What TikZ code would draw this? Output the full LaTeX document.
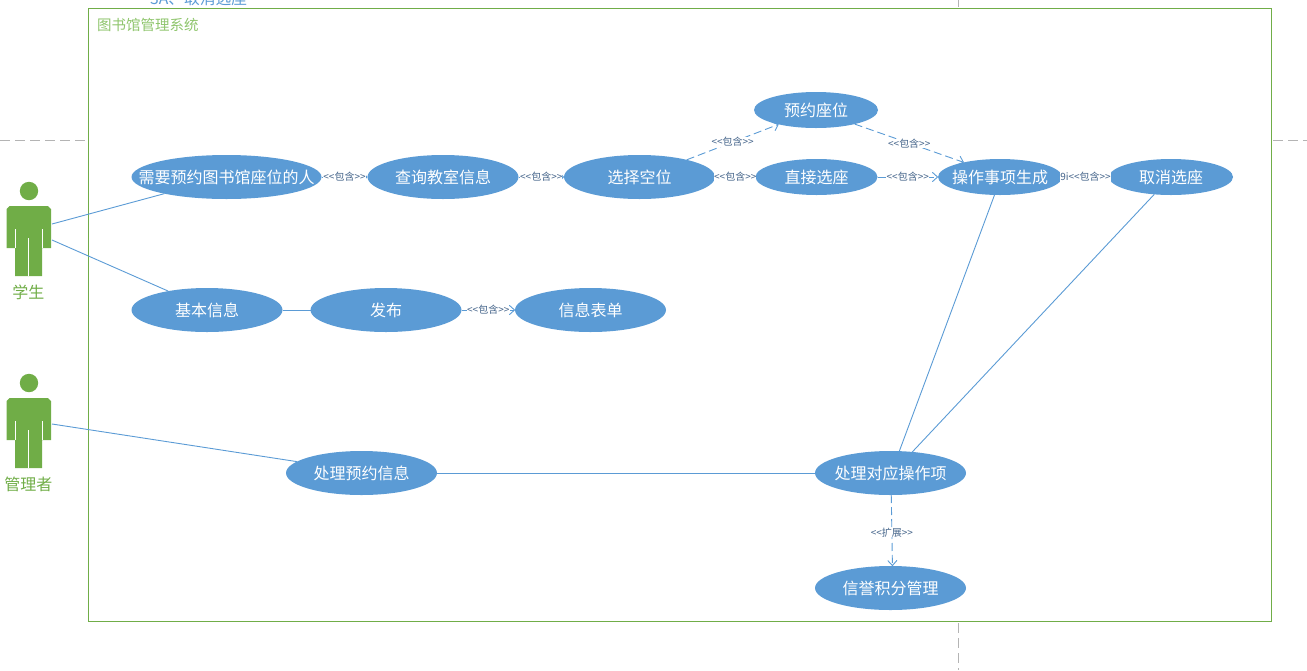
\documentclass[tikz,border=0pt]{standalone}
\usepackage{fontspec}
\setmainfont{Noto Sans CJK SC}
\usetikzlibrary{shapes.geometric,arrows.meta}
\definecolor{ucblue}{HTML}{5B9BD5}
\definecolor{actgreen}{HTML}{70AD47}
\definecolor{titlegreen}{HTML}{8FC56D}
\definecolor{labblue}{HTML}{44648A}
\definecolor{guide}{HTML}{B4B4B4}
\newcommand\uctext[1]{\makebox[0pt][c]{\raisebox{-0.4em}[0pt][0pt]{#1}}}
\newcommand\inctext[1]{<{}<#1>{}>}
\tikzset{
  x=1pt,y=-1pt,
  uc/.style={ellipse,fill=ucblue,inner sep=0pt,outer sep=0pt,text=white,font=\fontsize{16}{16}\selectfont},
  ucbig/.style={uc,minimum height=44pt},
  ucsmall/.style={uc,minimum height=36pt},
  solidlink/.style={draw=ucblue,line width=0.9pt},
  inc/.style={draw=ucblue,line width=0.9pt,dash pattern=on 8pt off 4pt,-{Straight Barb[length=5pt,width=9pt,round]}},
  lab/.style={fill=white,inner sep=0pt,text=labblue,font=\fontsize{10}{10}\selectfont},
  actorname/.style={text=actgreen,inner sep=0pt,font=\fontsize{16}{16}\selectfont},
  guideline/.style={draw=guide,line width=0.9pt,dash pattern=on 10pt off 5pt},
  actor/.pic={
    \fill[actgreen] (29,191) circle[radius=9.2];
    \fill[actgreen] (6.5,209) -- (9.5,206) -- (48,206) -- (51,209) -- (51,248) -- (42,248) -- (42,276) -- (15,276) -- (15,248) -- (6.5,248) -- cycle;
    \draw[white,line width=0.9pt] (15,229) -- (15,248) (42,229) -- (42,248) (28.5,238) -- (28.5,276);
  }
}
\begin{document}
\begin{tikzpicture}
\useasboundingbox (0,0) rectangle (1307,670);
% guides
\coordinate (gl1) at (0,140); \coordinate (gl2) at (86,140);
\coordinate (gr1) at (1273,140); \coordinate (gr2) at (1307,140);
\coordinate (gt1) at (958,0); \coordinate (gt2) at (958,7);
\coordinate (gb1) at (958,623); \coordinate (gb2) at (958,670);
\draw[guideline] (gl1) -- (gl2);
\draw[guideline] (gr1) -- (gr2);
\draw[guideline] (gt1) -- (gt2);
\draw[guideline] (gb1) -- (gb2);
% clipped heading
\node[text=ucblue,inner sep=0pt,anchor=west,font=\fontsize{15.7}{16}\selectfont] (cuthead) at (150,-2) {3A、取消选座};
% frame
\draw[actgreen,line width=0.9pt] (88.5,8.5) rectangle (1271.5,621.5);
\node[text=titlegreen,inner sep=0pt,anchor=west,font=\fontsize{14.5}{15}\selectfont] (systitle) at (97,25) {图书馆管理系统};
% actors
\pic at (0,0) {actor};
\pic at (0,192) {actor};
\node[actorname] (stuname) at (28.5,292) {学生};
\node[actorname] (mgrname) at (28.5,484) {管理者};
\coordinate (stuA) at (52,224);
\coordinate (stuB) at (52,240);
\coordinate (mgrA) at (52,424);
% use cases
\node[ucbig,minimum width=190pt] (need) at (226.5,177) {\uctext{需要预约图书馆座位的人}};
\node[ucbig,minimum width=151pt] (query) at (443,177) {\uctext{查询教室信息}};
\node[ucbig,minimum width=151pt] (pick) at (639.5,177) {\uctext{选择空位}};
\node[ucsmall,minimum width=124pt] (reserve) at (816,110) {\uctext{预约座位}};
\node[ucsmall,minimum width=122pt] (direct) at (816.5,177) {\uctext{直接选座}};
\node[ucsmall,minimum width=124pt] (gen) at (1000,177) {\uctext{操作事项生成}};
\node[ucsmall,minimum width=124pt] (cancel) at (1171,177) {\uctext{取消选座}};
\node[ucbig,minimum width=151pt] (basic) at (207,310) {\uctext{基本信息}};
\node[ucbig,minimum width=151pt] (pub) at (386,310) {\uctext{发布}};
\node[ucbig,minimum width=151pt] (form) at (590.5,310) {\uctext{信息表单}};
\node[ucbig,minimum width=151pt] (handle) at (361.5,473) {\uctext{处理预约信息}};
\node[ucbig,minimum width=151pt] (proc) at (890.5,473) {\uctext{处理对应操作项}};
\node[ucbig,minimum width=151pt] (credit) at (890.5,588) {\uctext{信誉积分管理}};
% solid links
\draw[solidlink] (stuA) -- (need.195);
\draw[solidlink] (stuB) -- (basic.154.6);
\draw[solidlink] (mgrA) -- (handle.170.7);
\draw[solidlink] (basic) -- (pub);
\draw[solidlink] (handle) -- (proc);
\draw[solidlink] (proc.68) -- (gen.253.6);
\draw[solidlink] (proc.44) -- (cancel.226.7);
% include links
\draw[inc] (need) -- node[lab] (l1) {\inctext{包含}} (query);
\draw[inc] (query) -- node[lab] (l2) {\inctext{包含}} (pick);
\draw[inc] (pick) -- node[lab] (l3) {\inctext{包含}} (direct);
\draw[inc] (direct) -- node[lab] (l4) {\inctext{包含}} (gen);
\draw[inc] (gen) -- node[lab] (l5) {9i\inctext{包含}} (cancel);
\draw[inc] (pub) -- node[lab] (l6) {\inctext{包含}} (form);
\draw[inc] (pick.20) -- node[lab] (l7) {\inctext{包含}} (reserve.201.5);
\draw[inc] (reserve.340) -- node[lab] (l8) {\inctext{包含}} (gen.158);
\draw[inc] (proc.272) -- node[lab,pos=0.53] (l9) {\inctext{扩展}} (credit.85);
\end{tikzpicture}
\end{document}
